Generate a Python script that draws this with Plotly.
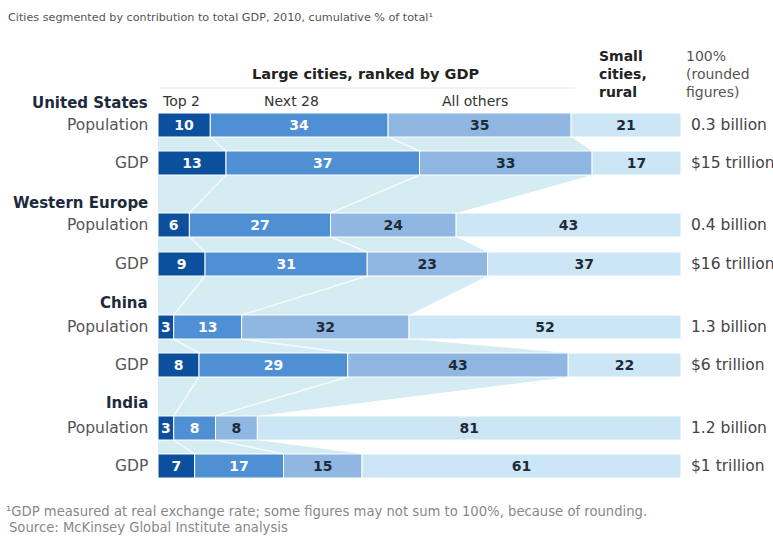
import plotly.graph_objects as go

# ---------------- data ----------------
regions = ["United States", "Western Europe", "China", "India"]
metrics = ["Population", "GDP"]
top2 = [10, 13, 6, 9, 3, 8, 3, 7]
next28 = [34, 37, 27, 31, 13, 29, 8, 17]
all_others = [35, 33, 24, 23, 32, 43, 8, 15]
small_rural = [21, 17, 43, 37, 52, 22, 81, 61]
totals = ["0.3 billion", "$15 trillion", "0.4 billion", "$16 trillion",
          "1.3 billion", "$6 trillion", "1.2 billion", "$1 trillion"]
segment_names = ["Top 2", "Next 28", "All others", "Small cities, rural"]

# ---------------- layout constants ----------------
W, H = 773, 550
X0, X100 = 158.0, 681.0          # pixel of 0% and 100%
scale = (X100 - X0) / 100.0
x_range = [-X0 / scale, (W - X0) / scale]
row_y = [125, 163, 225, 264, 327, 365, 428, 466]   # pixel centres of bars
country_y = [103, 203, 303, 403]
BAR_H = 24

FONT = "DejaVu Sans"
colors = ["#0c4f9c", "#4f8fd3", "#8fb7e1", "#cde6f6"]
text_colors = ["white", "white", "#1e2a38", "#1e2a38"]
shade = "#d5ecf2"

series = [top2, next28, all_others, small_rural]
n = len(top2)
row_sum = [sum(s[i] for s in series) for i in range(n)]
lengths = [[s[i] * 100.0 / row_sum[i] for i in range(n)] for s in series]
bases = []
cum = [0.0] * n
for k in range(4):
    bases.append(cum[:])
    cum = [cum[i] + lengths[k][i] for i in range(n)]

fig = go.Figure()
shapes = []

# background shading following the "large cities" cumulative edge
large_end = [bases[3][i] for i in range(n)]
pts = [(0, row_y[0] - BAR_H / 2)]
for i in range(n):
    pts += [(large_end[i], row_y[i] - BAR_H / 2), (large_end[i], row_y[i] + BAR_H / 2)]
pts += [(0, row_y[-1] + BAR_H / 2)]
path = "M " + " L ".join(f"{x:.3f},{y:.3f}" for x, y in pts) + " Z"
shapes.append(dict(type="path", path=path, xref="x", yref="y", layer="below",
                   fillcolor=shade, line=dict(width=0)))

# faint connector lines between segment boundaries
for k in (1, 2):
    for i in range(n - 1):
        shapes.append(dict(type="line", xref="x", yref="y", layer="below",
                           x0=bases[k][i], y0=row_y[i] + BAR_H / 2,
                           x1=bases[k][i + 1], y1=row_y[i + 1] - BAR_H / 2,
                           line=dict(color="rgba(255,255,255,0.75)", width=1.5)))

# header rule under "Large cities, ranked by GDP"
shapes.append(dict(type="line", xref="paper", yref="y", layer="below",
                   x0=160 / W, x1=575 / W, y0=88, y1=88,
                   line=dict(color="#e4e4e4", width=1)))

# stacked bars
for k in range(4):
    fig.add_trace(go.Bar(
        orientation="h", y=row_y, x=lengths[k], base=bases[k], width=BAR_H,
        marker=dict(color=colors[k], line=dict(color="white", width=1)),
        text=[str(v) for v in series[k]], textposition="inside",
        insidetextanchor="middle", constraintext="none", textangle=0,
        textfont=dict(family=FONT, size=14, color=text_colors[k], weight="bold"),
        name=segment_names[k], hoverinfo="skip", showlegend=False))

ann = []


def txt(x, y, s, size, color, bold=False, anchor="left"):
    ann.append(dict(x=x / W, y=y, xref="paper", yref="y", text=s, showarrow=False,
                    xanchor=anchor, yanchor="middle",
                    font=dict(family=FONT, size=size, color=color,
                              weight="bold" if bold else "normal")))


txt(6, 17, "Cities segmented by contribution to total GDP, 2010, cumulative % of total¹", 11.2, "#555555")
txt(366, 74, "Large cities, ranked by GDP", 14.5, "#222222", True, "center")
txt(597, 56, "Small", 14, "#222222", True)
txt(597, 74, "cities,", 14, "#222222", True)
txt(597, 92, "rural", 14, "#222222", True)
txt(684, 56, "100%", 14, "#555555")
txt(684, 74, "(rounded", 14, "#555555")
txt(684, 92, "figures)", 14, "#555555")
txt(160, 101, "Top 2", 14, "#333333")
txt(291, 101, "Next 28", 14, "#333333", anchor="center")
txt(475, 101, "All others", 14, "#333333", anchor="center")

for j, name in enumerate(regions):
    txt(150, country_y[j], name, 15, "#1c2b3c", True, "right")
for i in range(n):
    txt(150, row_y[i], metrics[i % 2], 15.5, "#555555", anchor="right")
    txt(689, row_y[i], totals[i], 15.5, "#444444")

txt(4, 511, "¹GDP measured at real exchange rate; some figures may not sum to 100%, because of rounding.", 13.2, "#888888")
txt(7, 527, "Source: McKinsey Global Institute analysis", 13.2, "#888888")

fig.update_layout(
    width=W, height=H, autosize=False,
    margin=dict(l=0, r=0, t=0, b=0),
    paper_bgcolor="white", plot_bgcolor="white",
    barmode="overlay",
    xaxis=dict(range=x_range, visible=False, fixedrange=True),
    yaxis=dict(range=[H, 0], visible=False, fixedrange=True),
    annotations=ann,
    shapes=shapes,
    showlegend=False,
)

fig.write_html("out.html")
